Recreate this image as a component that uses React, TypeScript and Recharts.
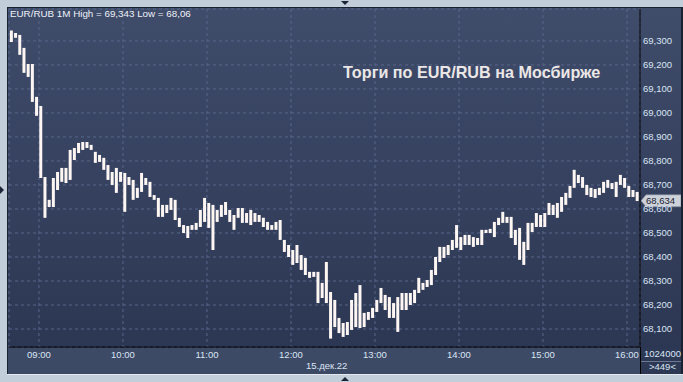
import { ComposedChart, Bar, XAxis, YAxis, CartesianGrid, ReferenceLine } from 'recharts';

// 3-minute bars, label = middle minute of the bar
const times = [
  '08:40', '08:43', '08:46', '08:49', '08:52', '08:55', '08:58',
  '09:01', '09:04', '09:07', '09:10', '09:13', '09:16', '09:19', '09:22', '09:25', '09:28',
  '09:31', '09:34', '09:37', '09:40', '09:43', '09:46', '09:49', '09:52', '09:55', '09:58',
  '10:01', '10:04', '10:07', '10:10', '10:13', '10:16', '10:19', '10:22', '10:25', '10:28',
  '10:31', '10:34', '10:37', '10:40', '10:43', '10:46', '10:49', '10:52', '10:55', '10:58',
  '11:01', '11:04', '11:07', '11:10', '11:13', '11:16', '11:19', '11:22', '11:25', '11:28',
  '11:31', '11:34', '11:37', '11:40', '11:43', '11:46', '11:49', '11:52', '11:55', '11:58',
  '12:01', '12:04', '12:07', '12:10', '12:13', '12:16', '12:19', '12:22', '12:25', '12:28',
  '12:31', '12:34', '12:37', '12:40', '12:43', '12:46', '12:49', '12:52', '12:55', '12:58',
  '13:01', '13:04', '13:07', '13:10', '13:13', '13:16', '13:19', '13:22', '13:25', '13:28',
  '13:31', '13:34', '13:37', '13:40', '13:43', '13:46', '13:49', '13:52', '13:55', '13:58',
  '14:01', '14:04', '14:07', '14:10', '14:13', '14:16', '14:19', '14:22', '14:25', '14:28',
  '14:31', '14:34', '14:37', '14:40', '14:43', '14:46', '14:49', '14:52', '14:55', '14:58',
  '15:01', '15:04', '15:07', '15:10', '15:13', '15:16', '15:19', '15:22', '15:25', '15:28',
  '15:31', '15:34', '15:37', '15:40', '15:43', '15:46', '15:49', '15:52', '15:55', '15:58',
  '16:01', '16:04', '16:07',
];

const lows = [
  69.296, 69.313, 69.242, 69.167, 69.150, 69.046, 68.988,
  68.729, 68.563, 68.608, 68.608, 68.679, 68.713, 68.708, 68.721, 68.804, 68.833,
  68.846, 68.854, 68.846, 68.792, 68.796, 68.763, 68.721, 68.700, 68.667, 68.713,
  68.588, 68.700, 68.638, 68.646, 68.671, 68.700, 68.650, 68.638, 68.567, 68.567,
  68.583, 68.596, 68.554, 68.525, 68.500, 68.479, 68.513, 68.513, 68.525, 68.546,
  68.521, 68.429, 68.546, 68.567, 68.575, 68.546, 68.513, 68.563, 68.542, 68.542,
  68.533, 68.546, 68.546, 68.525, 68.513, 68.513, 68.513, 68.471, 68.421, 68.400,
  68.367, 68.375, 68.346, 68.325, 68.313, 68.317, 68.208, 68.229, 68.208, 68.060,
  68.108, 68.083, 68.067, 68.075, 68.096, 68.108, 68.104, 68.108, 68.138, 68.146,
  68.171, 68.208, 68.179, 68.146, 68.146, 68.088, 68.179, 68.179, 68.200, 68.208,
  68.250, 68.263, 68.275, 68.283, 68.325, 68.379, 68.396, 68.408, 68.429, 68.438,
  68.429, 68.450, 68.450, 68.442, 68.450, 68.450, 68.500, 68.500, 68.483, 68.533,
  68.542, 68.542, 68.479, 68.450, 68.388, 68.367, 68.429, 68.504, 68.525, 68.525,
  68.525, 68.575, 68.575, 68.563, 68.588, 68.617, 68.646, 68.688, 68.708, 68.688,
  68.658, 68.650, 68.646, 68.658, 68.667, 68.688, 68.683, 68.650, 68.700, 68.688,
  68.650, 68.650, 68.633,
];

const highs = [
  69.343, 69.333, 69.325, 69.271, 69.204, 69.204, 69.067,
  69.029, 68.733, 68.638, 68.729, 68.754, 68.771, 68.771, 68.846, 68.854, 68.875,
  68.879, 68.879, 68.867, 68.838, 68.825, 68.813, 68.783, 68.754, 68.771, 68.754,
  68.750, 68.733, 68.721, 68.688, 68.750, 68.729, 68.713, 68.658, 68.646, 68.617,
  68.617, 68.646, 68.638, 68.563, 68.533, 68.529, 68.533, 68.542, 68.596, 68.646,
  68.625, 68.617, 68.596, 68.617, 68.629, 68.596, 68.575, 68.604, 68.604, 68.583,
  68.596, 68.583, 68.575, 68.563, 68.546, 68.533, 68.546, 68.554, 68.471, 68.450,
  68.429, 68.450, 68.408, 68.396, 68.338, 68.338, 68.338, 68.292, 68.379, 68.254,
  68.221, 68.146, 68.125, 68.129, 68.221, 68.250, 68.283, 68.167, 68.171, 68.188,
  68.221, 68.271, 68.242, 68.233, 68.208, 68.233, 68.250, 68.250, 68.250, 68.263,
  68.313, 68.292, 68.304, 68.346, 68.400, 68.442, 68.442, 68.450, 68.471, 68.533,
  68.483, 68.492, 68.492, 68.483, 68.479, 68.513, 68.513, 68.517, 68.546, 68.563,
  68.588, 68.567, 68.567, 68.513, 68.521, 68.463, 68.542, 68.542, 68.583, 68.575,
  68.583, 68.625, 68.617, 68.625, 68.650, 68.667, 68.696, 68.763, 68.742, 68.733,
  68.700, 68.688, 68.683, 68.688, 68.713, 68.721, 68.708, 68.713, 68.742, 68.729,
  68.696, 68.679, 68.671,
];

const hourTicks = ['09:00', '10:00', '11:00', '12:00', '13:00', '14:00', '15:00', '16:00'];
const priceTicks = [68.1, 68.2, 68.3, 68.4, 68.5, 68.6, 68.7, 68.8, 68.9, 69.0, 69.1, 69.2, 69.3];
const lastPrice = 68.634;
const sessionHigh = '69,343';
const sessionLow = '68,06';
const volumeText = '1024000';
const barCountText = '>449<';
const dateText = '15.дек.22';
const titleText = 'Торги по EUR/RUB на Мосбирже';

const toMinutes = (s: string) => {
  const [h, m] = s.split(':').map(Number);
  return h * 60 + m;
};
const fmtTime = (m: number) =>
  `${String(Math.floor(m / 60)).padStart(2, '0')}:${String(m % 60).padStart(2, '0')}`;
const fmtPrice = (v: number) => v.toFixed(3).replace('.', ',');

const data = times.map((t, i) => ({ t: toMinutes(t), range: [lows[i], highs[i]] }));

const font = '"Liberation Sans", Arial, sans-serif';
const axisText = '#dae5f5';

function PriceTag(props: any) {
  const { viewBox, text } = props;
  if (!viewBox) return null;
  const x = viewBox.x + viewBox.width;
  const y = viewBox.y;
  return (
    <g>
      <polygon
        points={`${x + 1},${y} ${x + 6},${y - 6} ${x + 41},${y - 6} ${x + 41},${y + 6} ${x + 6},${y + 6}`}
        fill="#cdd2da"
        stroke="#7f889a"
        strokeWidth={0.6}
      />
      <text x={x + 6} y={y + 3.5} fontSize={9.5} fill="#1c2130" fontFamily={font}>
        {text}
      </text>
    </g>
  );
}

const tri = (style: React.CSSProperties): React.CSSProperties => ({
  position: 'absolute',
  width: 0,
  height: 0,
  ...style,
});

export default function App() {
  return (
    <div
      style={{
        position: 'absolute',
        left: 0,
        top: 0,
        width: 683,
        height: 382,
        background: '#c3cedb',
        overflow: 'hidden',
        fontFamily: font,
      }}
    >
      {/* frame */}
      <div style={{ position: 'absolute', left: 7, top: 7, width: 676, height: 368, background: '#1a2130' }} />
      <div
        style={{
          position: 'absolute',
          left: 8,
          top: 8,
          width: 673,
          height: 366,
          background: 'linear-gradient(to bottom, #3f4c6a 0px, #2c3753 339px)',
        }}
      />
      <div style={{ position: 'absolute', left: 8, top: 348, width: 632, height: 26, background: '#3d4a66' }} />
      <div style={{ position: 'absolute', left: 641, top: 348, width: 40, height: 26, background: '#2d3854' }} />
      <div style={{ position: 'absolute', left: 640, top: 347, width: 1, height: 28, background: '#000' }} />
      <div style={{ position: 'absolute', left: 641, top: 361, width: 40, height: 1, background: '#6c7891' }} />
      <div style={{ position: 'absolute', left: 7, top: 374, width: 676, height: 1, background: '#e4e9ef' }} />

      <div style={{ position: 'absolute', left: 8, top: 8 }}>
        <ComposedChart
          width={673}
          height={366}
          data={data}
          margin={{ top: 1, right: 0, bottom: 0, left: 1 }}
          style={{ fontFamily: font }}
        >
          <CartesianGrid stroke="#58668a" strokeDasharray="3 3" />
          <XAxis
            type="number"
            dataKey="t"
            domain={[518.6, 969.3]}
            allowDataOverflow
            ticks={hourTicks.map(toMinutes)}
            tickFormatter={fmtTime}
            height={27}
            tickSize={0}
            tickMargin={4}
            tickLine={false}
            axisLine={{ stroke: '#000', strokeWidth: 1 }}
            tick={{ fontSize: 9.5, fill: axisText }}
          />
          <YAxis
            orientation="right"
            type="number"
            domain={[68.025, 69.433]}
            allowDataOverflow
            ticks={priceTicks}
            interval={0}
            tickFormatter={fmtPrice}
            width={41}
            tickSize={0}
            tickMargin={3}
            tickLine={false}
            axisLine={{ stroke: '#000', strokeWidth: 1 }}
            tick={{ fontSize: 9.5, fill: axisText, textAnchor: 'start' }}
          />
          <Bar dataKey="range" fill="#fdf6f3" barSize={3} isAnimationActive={false} />
          <ReferenceLine
            y={lastPrice}
            stroke="none"
            label={(p: any) => <PriceTag {...p} text={fmtPrice(lastPrice)} />}
          />
        </ComposedChart>
      </div>

      {/* texts */}
      <div style={{ position: 'absolute', left: 10, top: 8, fontSize: 9.8, lineHeight: '12px', color: '#eef2f8', whiteSpace: 'nowrap' }}>
        {`EUR/RUB 1M High = ${sessionHigh} Low = ${sessionLow}`}
      </div>
      <div style={{ position: 'absolute', left: 343, top: 64, fontSize: 16.2, fontWeight: 'bold', lineHeight: '16px', color: '#ebe7e7', whiteSpace: 'nowrap' }}>
        {titleText}
      </div>
      <div style={{ position: 'absolute', left: 306, top: 360, fontSize: 9.5, lineHeight: '12px', color: axisText }}>
        {dateText}
      </div>
      <div style={{ position: 'absolute', left: 644, top: 348, fontSize: 9.5, lineHeight: '12px', color: axisText }}>
        {volumeText}
      </div>
      <div style={{ position: 'absolute', left: 649, top: 361, fontSize: 9.5, lineHeight: '12px', color: axisText }}>
        {barCountText}
      </div>

      {/* scroll markers */}
      <div style={tri({ left: 341, top: 1, borderLeft: '4px solid transparent', borderRight: '4px solid transparent', borderTop: '4px solid #1c2438' })} />
      <div style={tri({ left: 341, top: 377, borderLeft: '4px solid transparent', borderRight: '4px solid transparent', borderBottom: '4px solid #1c2438' })} />
      <div style={tri({ left: 0, top: 186, borderTop: '4px solid transparent', borderBottom: '4px solid transparent', borderLeft: '4px solid #1c2438' })} />
    </div>
  );
}
